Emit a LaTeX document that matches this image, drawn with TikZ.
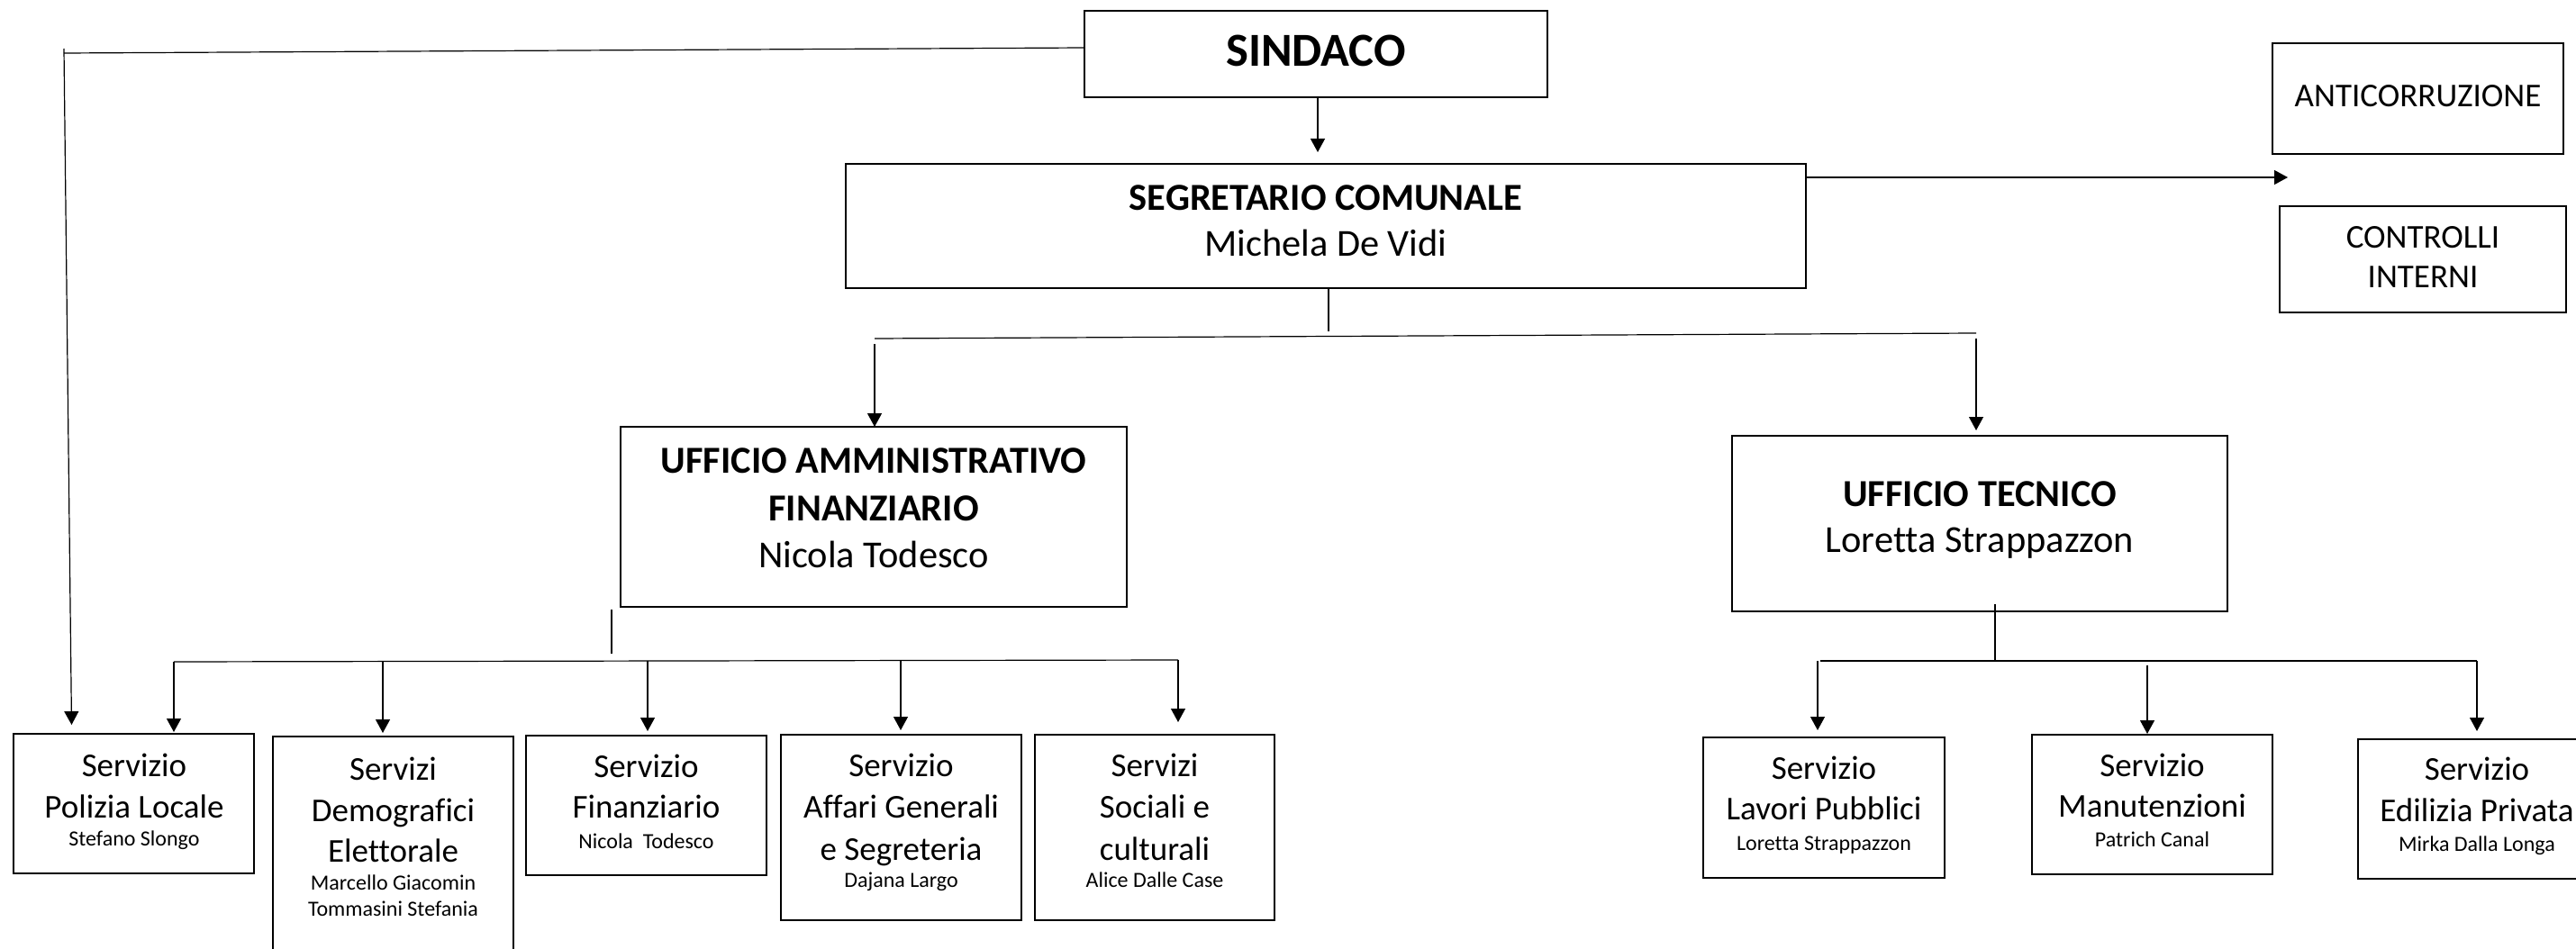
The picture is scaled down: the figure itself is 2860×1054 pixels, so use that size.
\documentclass[tikz,border=0pt]{standalone}
\usepackage{fontspec}
\setmainfont{Carlito}[Ligatures=NoCommon]
\usetikzlibrary{arrows.meta}
\newcommand\orgbox[5]{\node[box, minimum width={(#4-#2)*0.5pt}, minimum height={(#5-#3)*0.5pt}] (#1) at ({(#2+#4)/2},{(#3+#5)/2}) {};}
\begin{document}
\begin{tikzpicture}[x=0.5pt,y=-0.5pt,
  box/.style={draw, line width=0.9pt, inner sep=0pt, outer sep=0pt},
  conn/.style={line width=0.6pt},
  arr/.style={conn, -{Triangle[length=7.5pt,width=8pt]}},
  txt/.style={anchor=base, inner sep=0pt},
  big/.style={txt, font=\fontsize{26.3}{31}\selectfont\bfseries},
  hb/.style={txt, font=\fontsize{21.2}{25}\selectfont\bfseries},
  hr/.style={txt, font=\fontsize{21.2}{25}\selectfont},
  sv/.style={txt, font=\fontsize{18.5}{22}\selectfont},
  nm/.style={txt, font=\fontsize{12}{14}\selectfont}]
\useasboundingbox (0,0) rectangle (2860,1054);
\clip (0,0) rectangle (2860,1054);
\fill[white] (0,0) rectangle (2860,1054);

% ---- boxes
\orgbox{sind}{1204}{12}{1718}{108}
\orgbox{segr}{939}{182}{2005}{320}
\orgbox{anti}{2523}{48}{2846}{171}
\orgbox{ctrl}{2531}{229}{2849}{347}
\orgbox{uam}{689}{474}{1251}{674}
\orgbox{utec}{1923}{484}{2473}{679}
\orgbox{pol}{15}{815}{282}{970}
\orgbox{demo}{303}{818}{570}{1080}
\orgbox{fin}{584}{817}{851}{972}
\orgbox{aff}{867}{816}{1134}{1022}
\orgbox{soc}{1149}{816}{1415}{1022}
\orgbox{lav}{1891}{819}{2159}{975}
\orgbox{man}{2256}{816}{2523}{971}
\orgbox{edi}{2618}{821}{2882}{976}

% ---- texts
\node[big] (sindT) at (1461,74) {SINDACO};
\node[hb] (segrT1) at (1472,233) {SEGRETARIO COMUNALE};
\node[hr] (segrT2) at (1472,284) {Michela De Vidi};
\node[sv] (antiT) at (2684.5,119) {ANTICORRUZIONE};
\node[sv] (ctrlT1) at (2690,275) {CONTROLLI};
\node[sv] (ctrlT2) at (2690,319) {INTERNI};
\node[hb] (uamT1) at (970,525) {UFFICIO AMMINISTRATIVO};
\node[hb] (uamT2) at (970,578) {FINANZIARIO};
\node[hr] (uamT3) at (970,630) {Nicola Todesco};
\node[hb] (utecT1) at (2198,562) {UFFICIO TECNICO};
\node[hr] (utecT2) at (2198,613) {Loretta Strappazzon};

\node[sv] (polT1) at (149,862) {Servizio};
\node[sv] (polT2) at (149,908) {Polizia Locale};
\node[nm] (polT3) at (149,939) {Stefano Slongo};

\node[sv] (demoT1) at (436.5,866) {Servizi};
\node[sv] (demoT2) at (436.5,912) {Demografici};
\node[sv] (demoT3) at (436.5,957) {Elettorale};
\node[nm] (demoT4) at (436.5,988) {Marcello Giacomin};
\node[nm] (demoT5) at (436.5,1017) {Tommasini Stefania};

\node[sv] (finT1) at (717.5,863) {Servizio};
\node[sv] (finT2) at (717.5,908) {Finanziario};
\node[nm] (finT3) at (717.5,942) {Nicola\ \ Todesco};

\node[sv] (affT1) at (1000.5,862) {Servizio};
\node[sv] (affT2) at (1000.5,908) {Affari Generali};
\node[sv] (affT3) at (1000.5,955) {e Segreteria};
\node[nm] (affT4) at (1000.5,985) {Dajana Largo};

\node[sv] (socT1) at (1282,862) {Servizi};
\node[sv] (socT2) at (1282,908) {Sociali e};
\node[sv] (socT3) at (1282,955) {culturali};
\node[nm] (socT4) at (1282,985) {Alice Dalle Case};

\node[sv] (lavT1) at (2025,865) {Servizio};
\node[sv] (lavT2) at (2025,910) {Lavori Pubblici};
\node[nm] (lavT3) at (2025,944) {Loretta Strappazzon};

\node[sv] (manT1) at (2389.5,862) {Servizio};
\node[sv] (manT2) at (2389.5,907) {Manutenzioni};
\node[nm] (manT3) at (2389.5,940) {Patrich Canal};

\node[sv] (ediT1) at (2750,866) {Servizio};
\node[sv] (ediT2) at (2750,912) {Edilizia Privata};
\node[nm] (ediT3) at (2750,945) {Mirka Dalla Longa};

% ---- connectors
% sindaco to polizia locale (left line)
\coordinate (sL1) at (71,59);
\coordinate (sL0) at (71,54);
\draw[conn] ([yshift=3.5pt]sind.west) -- (sL1);
\draw[arr] (sL0) -- ([xshift=-34.5pt,yshift=5pt]pol.north);

% sindaco to segretario
\draw[arr] ([xshift=1pt]sind.south) -- ([xshift=-4.5pt,yshift=6.5pt]segr.north);

% segretario to right
\coordinate (rEnd) at (2540,197);
\draw[arr] ([yshift=27pt]segr.east) -- (rEnd);

% segretario down to the two offices
\coordinate (sD) at (1475,368);
\draw[conn] ([xshift=1.5pt]segr.south) -- (sD);
\coordinate (bA) at (971,376);
\coordinate (bB) at (2194,370);
\draw[conn] (bA) -- (bB);
\draw[arr] ([yshift=-3pt]bA) -- (bA |- uam.north);
\draw[arr] ([yshift=-3pt]bB) -- ([yshift=3pt]bB |- utec.north);

% ufficio amministrativo branch
\coordinate (aV0) at (679,677);
\coordinate (aV1) at (679,726);
\draw[conn] (aV0) -- (aV1);
\coordinate (aL) at (193,735);
\coordinate (aR) at (1308,733);
\draw[conn] (aL) -- (aR);
\draw[arr] (aL) -- ([yshift=1pt]aL |- pol.north);
\draw[arr] (425,735) -- ([yshift=2pt]425,0 |- demo.north);
\draw[arr] (719,734) -- ([yshift=2.5pt]719,0 |- fin.north);
\draw[arr] (1000,734) -- ([yshift=2.5pt]1000,0 |- aff.north);
\draw[arr] (aR) -- ([yshift=7pt]aR |- soc.north);

% ufficio tecnico branch
\coordinate (tV) at (2215,734);
\draw[conn] (2215,671) -- (tV);
\coordinate (tL) at (2021,734);
\coordinate (tR) at (2750,734);
\draw[conn] (tL) -- (tR);
\draw[arr] (2018,734) -- ([yshift=4pt]2018,0 |- lav.north);
\draw[arr] (2384,739) -- ([yshift=0.5pt]2384,0 |- man.north);
\draw[arr] (tR) -- ([yshift=4.5pt]tR |- edi.north);
\end{tikzpicture}
\end{document}
